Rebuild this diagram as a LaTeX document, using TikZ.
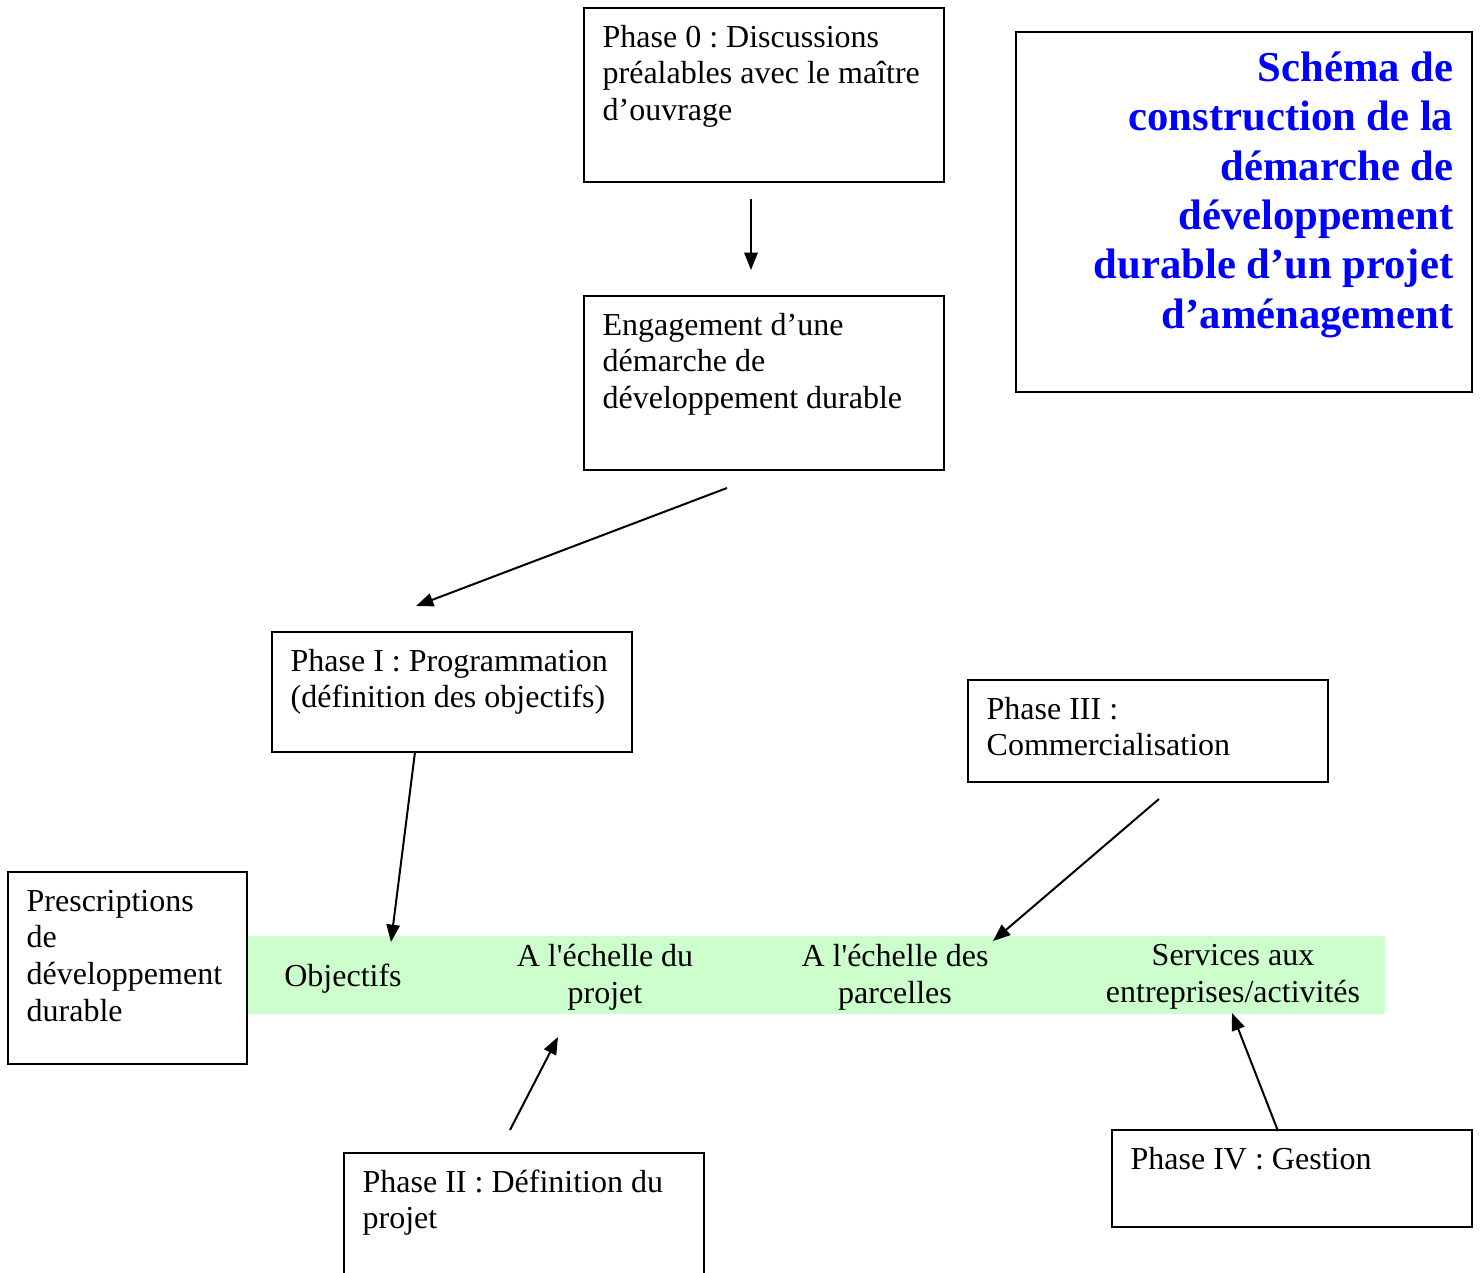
\documentclass[tikz,border=0pt]{standalone}
\usepackage{fontspec}
\setmainfont{Liberation Serif}
\usepackage{tikz}
\usetikzlibrary{arrows.meta}
\frenchspacing

\definecolor{vertclair}{RGB}{204,255,204}
\definecolor{bleutitre}{RGB}{0,0,255}
% texte en haut a gauche d'un cadre de hauteur fixe
\newcommand{\cadretexte}[3]{\parbox[t][#2][t]{#1}{\raggedright\vspace*{5pt}\strut#3}}

\begin{document}
\begin{tikzpicture}[x=0.375pt, y=-0.375pt,
  boite/.style={draw, line width=0.75pt, anchor=north west, inner xsep=7pt, inner ysep=0pt,
    font=\fontsize{12}{13.8}\selectfont},
  case/.style={align=center, inner sep=0pt, font=\fontsize{12}{13.8}\selectfont},
  fleche/.style={-{Triangle[length=6.5pt,width=5pt]}, line width=0.75pt}]
\useasboundingbox (0,0) rectangle (1481,1273);
\clip (0,0) rectangle (1481,1273);

% bande verte
\fill[vertclair] (246,936) rectangle (1385,1014);
\node[case] (obj) at (343,979) {Objectifs};
\node[case] (echprojet) at (605,977) {A l\textquotesingle échelle du\\ projet};
\node[case] (echparc) at (895,977) {A l\textquotesingle échelle des\\ parcelles};
\node[case] (serv) at (1233,977) {Services aux\\ entreprises/activités};

% cadres
\node[boite] (p0) at (583,7) {\cadretexte{121pt}{65.25pt}{Phase 0 : Discussions\\ préalables avec le maître\\ d’ouvrage}};
\node[boite] (eng) at (583,295) {\cadretexte{121pt}{65.25pt}{Engagement d’une\\ démarche de\\ développement durable}};
\node[boite] (p1) at (271,631) {\cadretexte{121pt}{45pt}{Phase I : Programmation\\ (définition des objectifs)}};
\node[boite] (p3) at (967,679) {\cadretexte{121pt}{38.25pt}{Phase III :\\ Commercialisation}};
\node[boite] (presc) at (7,871) {\cadretexte{75.6pt}{72pt}{Prescriptions\\ de\\ développement\\ durable}};
\node[boite] (p2) at (343,1152) {\cadretexte{121pt}{60pt}{Phase II : Définition du\\ projet}};
\node[boite] (p4) at (1111,1129) {\cadretexte{121pt}{36.4pt}{Phase IV : Gestion}};
\node[boite, text=bleutitre, font=\fontsize{16}{18.5}\selectfont\bfseries] (titre) at (1015,31)
  {\parbox[t][135pt][t]{157pt}{\raggedleft\vspace*{5.6pt}\strut Schéma de\\ construction de la\\ démarche de\\ développement\\ durable d’un projet\\ d’aménagement}};

% fleches
\coordinate (p0bas) at (751,199);
\coordinate (enghaut) at (751,270);
\coordinate (engbas) at (727,488);
\coordinate (p1haut) at (416,606);
\coordinate (p1bas) at (415,752);
\coordinate (objhaut) at (391,942);
\coordinate (p3bas) at (1159,799);
\coordinate (parchaut) at (993,941);
\coordinate (p2haut) at (510,1130);
\coordinate (projetbas) at (558,1037);
\coordinate (p4haut) at (1278,1131);
\coordinate (servbas) at (1232,1013);
\draw[fleche] (p0bas) -- (enghaut);
\draw[fleche] (engbas) -- (p1haut);
\draw[fleche] (p1bas) -- (objhaut);
\draw[fleche] (p3bas) -- (parchaut);
\draw[fleche] (p2haut) -- (projetbas);
\draw[fleche] (p4haut) -- (servbas);
\end{tikzpicture}
\end{document}
